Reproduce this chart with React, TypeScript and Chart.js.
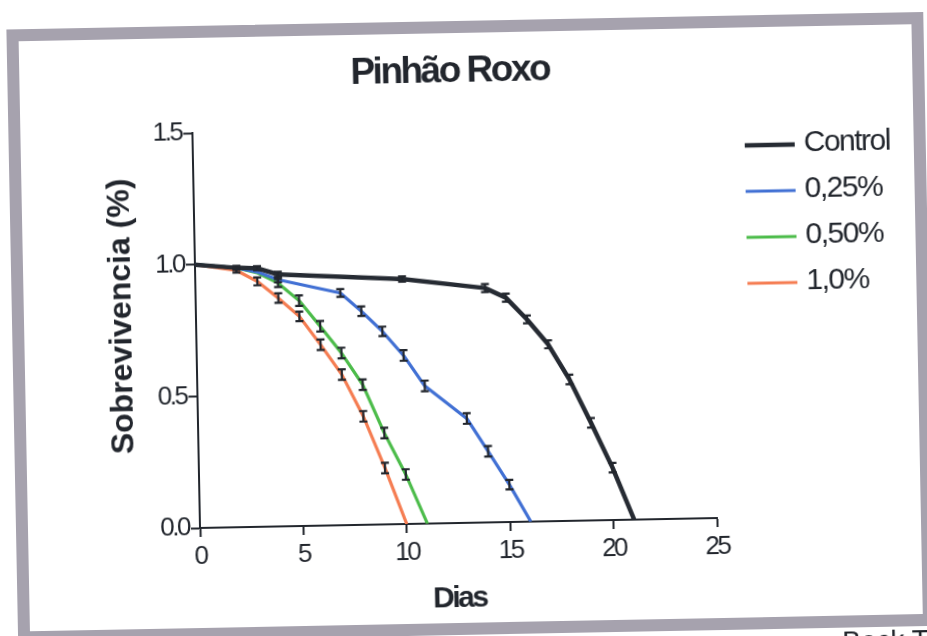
import React, { useEffect, useRef } from "react";
import { Chart, registerables } from "chart.js";

Chart.register(...registerables);

// ---------- data ----------
const TITLE = "Pinhão Roxo";
const X_TITLE = "Dias";
const Y_TITLE = "Sobrevivencia (%)";
const X_TICKS = [0, 5, 10, 15, 20, 25];
const Y_TICKS = [0, 0.5, 1.0, 1.5];

const SERIES_LABELS = ["Control", "0,25%", "0,50%", "1,0%"];
const SERIES_COLORS = ["#262b33", "#4170d4", "#4cbc4a", "#f57d52"];

const DAYS_CONTROL = [0, 2, 3, 4, 10, 14, 15, 16, 17, 18, 19, 20, 21];
const SURV_CONTROL = [1.0, 0.985, 0.982, 0.957, 0.93, 0.89, 0.852, 0.768, 0.672, 0.537, 0.371, 0.199, 0];
const ERR_CONTROL = [0, 0.008, 0.008, 0.01, 0.01, 0.015, 0.015, 0.015, 0.015, 0.018, 0.018, 0.018, 0];

const DAYS_025 = [0, 2, 3, 4, 7, 8, 9, 10, 11, 13, 14, 15, 16];
const SURV_025 = [1.0, 0.985, 0.968, 0.937, 0.882, 0.811, 0.733, 0.64, 0.523, 0.396, 0.27, 0.142, 0];
const ERR_025 = [0, 0, 0, 0.01, 0.015, 0.018, 0.018, 0.02, 0.02, 0.02, 0.02, 0.018, 0];

const DAYS_050 = [0, 2, 3, 4, 5, 6, 7, 8, 9, 10, 11];
const SURV_050 = [1.0, 0.985, 0.965, 0.924, 0.856, 0.757, 0.654, 0.532, 0.347, 0.188, 0];
const ERR_050 = [0, 0, 0, 0.015, 0.02, 0.02, 0.02, 0.02, 0.02, 0.02, 0];

const DAYS_100 = [0, 2, 3, 4, 5, 6, 7, 8, 9, 10];
const SURV_100 = [1.0, 0.975, 0.932, 0.867, 0.796, 0.687, 0.572, 0.412, 0.214, 0];
const ERR_100 = [0, 0.008, 0.015, 0.018, 0.018, 0.02, 0.02, 0.02, 0.02, 0];

const SERIES_DAYS = [DAYS_CONTROL, DAYS_025, DAYS_050, DAYS_100];
const SERIES_SURV = [SURV_CONTROL, SURV_025, SURV_050, SURV_100];
const SERIES_ERR = [ERR_CONTROL, ERR_025, ERR_050, ERR_100];
const SERIES_WIDTHS = [4.5, 3.2, 3.2, 3.2];

// ---------- styles ----------
const FONT = "'Liberation Sans', Arial, Helvetica, sans-serif";
const INK = "#22262d";

const errorBarsPlugin = {
  id: "errorBars",
  afterDatasetsDraw(chart: any) {
    const { ctx } = chart;
    const xs = chart.scales.x;
    const ys = chart.scales.y;
    ctx.save();
    ctx.strokeStyle = INK;
    ctx.lineWidth = 2.2;
    chart.data.datasets.forEach((ds: any) => {
      ds.data.forEach((p: any, i: number) => {
        const e = ds.err[i];
        if (!e) return;
        const px = xs.getPixelForValue(p.x);
        const top = ys.getPixelForValue(p.y + e);
        const bot = ys.getPixelForValue(p.y - e);
        ctx.beginPath();
        ctx.moveTo(px, top);
        ctx.lineTo(px, bot);
        ctx.moveTo(px - 4, top);
        ctx.lineTo(px + 4, top);
        ctx.moveTo(px - 4, bot);
        ctx.lineTo(px + 4, bot);
        ctx.stroke();
      });
    });
    ctx.restore();
    // spacing for the axis texts drawn after datasets
    ctx.letterSpacing = "-0.5px";
  },
};

const spacingPlugin = {
  id: "spacing",
  beforeDraw(chart: any) {
    chart.ctx.letterSpacing = "-2.5px";
  },
};

const sideLegendPlugin = {
  id: "sideLegend",
  afterDraw(chart: any) {
    const ctx = chart.ctx;
    ctx.save();
    ctx.letterSpacing = "-1.5px";
    ctx.font = `30px ${FONT}`;
    ctx.textBaseline = "middle";
    ctx.textAlign = "left";
    ctx.fillStyle = INK;
    ctx.lineCap = "butt";
    chart.data.datasets.forEach((ds: any, i: number) => {
      const yy = 156 + i * 46;
      ctx.strokeStyle = ds.borderColor;
      ctx.lineWidth = ds.borderWidth;
      ctx.beginPath();
      ctx.moveTo(752, yy);
      ctx.lineTo(802, yy);
      ctx.stroke();
      ctx.fillText(ds.label, 811, yy - 1);
    });
    ctx.letterSpacing = "0px";
    ctx.font = `bold 32px ${FONT}`;
    ctx.textAlign = "center";
    ctx.translate(126, 315);
    ctx.rotate(-Math.PI / 2);
    ctx.fillText(Y_TITLE, 0, 0);
    ctx.restore();
  },
};

export default function App() {
  const canvasRef = useRef<HTMLCanvasElement | null>(null);

  useEffect(() => {
    const canvas = canvasRef.current;
    if (!canvas) return;
    const datasets = SERIES_LABELS.map((label, s) => ({
      label,
      data: SERIES_DAYS[s].map((d, i) => ({ x: d, y: SERIES_SURV[s][i] })),
      err: SERIES_ERR[s],
      borderColor: SERIES_COLORS[s],
      backgroundColor: SERIES_COLORS[s],
      borderWidth: SERIES_WIDTHS[s],
      pointRadius: 0,
      pointHoverRadius: 0,
      tension: 0,
      fill: false,
      borderJoinStyle: "round" as const,
    }));

    const chart = new Chart(canvas, {
      type: "line",
      data: { datasets: datasets as any },
      plugins: [spacingPlugin, errorBarsPlugin, sideLegendPlugin],
      options: {
        animation: false,
        responsive: false,
        devicePixelRatio: 1,
        layout: { padding: { left: 0, right: 200, top: 0, bottom: 0 } },
        plugins: {
          legend: { display: false },
          tooltip: { enabled: false },
          title: {
            display: true,
            text: TITLE,
            fullSize: false,
            color: INK,
            font: { family: FONT, size: 37, weight: "bold", lineHeight: 1.2 },
            padding: { top: 55, bottom: 33.6 },
          },
        },
        scales: {
          x: {
            type: "linear",
            min: 0,
            max: 25,
            z: 1,
            afterBuildTicks: (s: any) => {
              s.ticks = X_TICKS.map((v) => ({ value: v }));
            },
            afterFit: (s: any) => {
              s.height = 122;
            },
            ticks: {
              color: INK,
              font: { family: FONT, size: 26, lineHeight: 1.2 },
              padding: 4,
              maxRotation: 0,
              autoSkip: false,
              callback: (v: any) => String(v),
            },
            grid: {
              drawOnChartArea: false,
              drawTicks: true,
              tickLength: 9,
              tickWidth: 2,
              tickColor: INK,
            },
            border: { display: true, color: INK, width: 2 },
            title: {
              display: true,
              text: X_TITLE,
              color: INK,
              font: { family: FONT, size: 30, weight: "bold", lineHeight: 1.2 },
              padding: { top: 0, bottom: 28 },
            },
          },
          y: {
            type: "linear",
            min: 0,
            max: 1.5,
            z: 1,
            afterBuildTicks: (s: any) => {
              s.ticks = Y_TICKS.map((v) => ({ value: v }));
            },
            afterFit: (s: any) => {
              s.width = 200;
            },
            ticks: {
              color: INK,
              font: { family: FONT, size: 26, lineHeight: 1.2 },
              padding: 2,
              autoSkip: false,
              callback: (v: any) => Number(v).toFixed(1),
            },
            grid: {
              drawOnChartArea: false,
              drawTicks: true,
              tickLength: 9,
              tickWidth: 2,
              tickColor: INK,
            },
            border: { display: true, color: INK, width: 2 },
            title: { display: false },
          },
        },
      } as any,
    });
    return () => chart.destroy();
  }, []);

  return (
    <div
      style={{
        position: "fixed",
        left: 0,
        top: 0,
        width: 927,
        height: 636,
        overflow: "hidden",
        background: "#ffffff",
      }}
    >
      <div
        style={{
          position: "absolute",
          left: 0,
          top: 0,
          width: 960,
          height: 700,
          transform: "rotate(-1.1deg)",
          transformOrigin: "198px 528px",
        }}
      >
        <div
          style={{
            position: "absolute",
            left: 16,
            top: 26,
            width: 917,
            height: 614,
            boxSizing: "border-box",
            border: "12px solid #a6a2ae",
            background: "#ffffff",
          }}
        />
        <canvas
          ref={canvasRef}
          width={917}
          height={650}
          style={{ position: "absolute", left: 0, top: 0, width: 917, height: 650 }}
        />
        <div
          style={{
            position: "absolute",
            left: 840,
            top: 640,
            fontFamily: FONT,
            fontSize: 28,
            lineHeight: 1,
            color: "#1e2228",
            whiteSpace: "nowrap",
          }}
        >
          Bock T
        </div>
      </div>
    </div>
  );
}
